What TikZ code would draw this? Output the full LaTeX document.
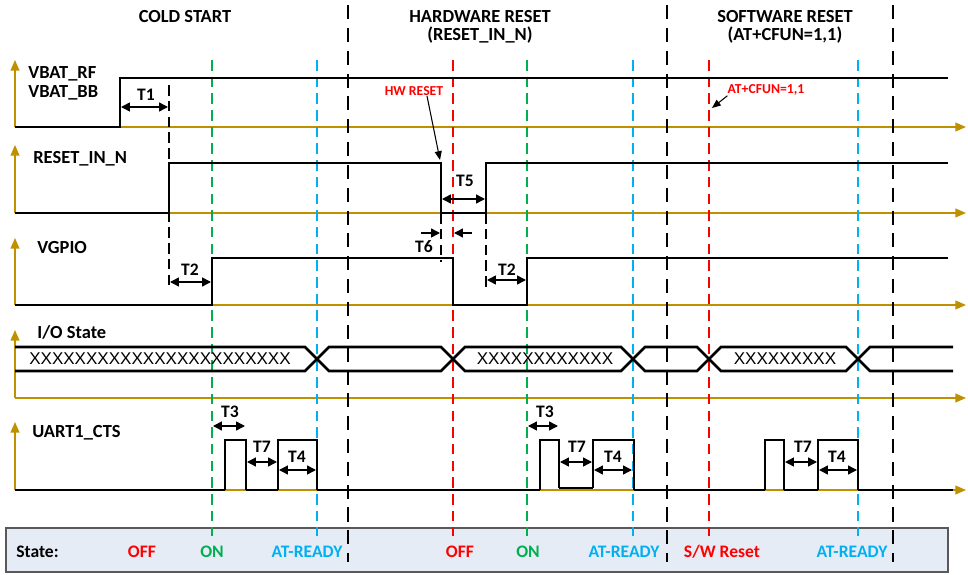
\documentclass[tikz,border=0pt]{standalone}
\usepackage{fontspec}
\setmainfont{Carlito}
\newfontfamily\busfont{Liberation Sans}
\usepackage{xcolor}
\definecolor{axgold}{RGB}{191,144,0}
\definecolor{onGreen}{RGB}{0,176,80}
\definecolor{rdyBlue}{RGB}{0,176,240}
\definecolor{offRed}{RGB}{255,0,0}
\definecolor{stateFill}{RGB}{230,236,246}
\usetikzlibrary{arrows.meta, positioning}

\begin{document}
\begin{tikzpicture}[x=0.02cm, y=-0.02cm,
  sig/.style={line width=1.5pt, line join=miter},
  baseln/.style={axgold, line width=0.8pt, -{Triangle[length=6pt,width=5pt]}},
  divider/.style={line width=1.7pt, dash pattern=on 8pt off 5pt},
  evt/.style={line width=1.1pt, dash pattern=on 6pt off 3.5pt},
  guide/.style={line width=0.9pt, dash pattern=on 6pt off 3pt},
  tarr/.style={{Triangle[length=5pt,width=5pt]}-{Triangle[length=5pt,width=5pt]}, line width=0.8pt},
  tone/.style={-{Triangle[length=5pt,width=5pt]}, line width=0.8pt},
  ptr/.style={-{Triangle[length=5pt,width=4pt]}, line width=0.6pt},
  lbl/.style={font=\fontsize{10.5}{12}\selectfont\bfseries, anchor=base west, inner sep=0pt},
  ttl/.style={font=\fontsize{10.5}{12}\selectfont\bfseries, anchor=base, inner sep=0pt},
  tlbl/.style={font=\fontsize{10}{12}\selectfont\bfseries, inner sep=0pt},
  note/.style={font=\fontsize{7.8}{9}\selectfont\bfseries, text=offRed, inner sep=0pt},
  st/.style={font=\fontsize{10}{12}\selectfont\bfseries, anchor=base, inner sep=0pt},
  bus/.style={font=\busfont\fontsize{9.7}{12}\selectfont, inner sep=0pt},
]
  \useasboundingbox (0,0) rectangle (968,575);

  % State bar
  \draw[gray!70!black, fill=stateFill, line width=0.7pt] (6,528) rectangle (948,572);

  % Axes
  \draw[baseln] (15,127) -- (15,60);  \draw[baseln] (15,127) -- (966,127);
  \draw[baseln] (15,213) -- (15,145); \draw[baseln] (15,213) -- (966,213);
  \draw[baseln] (15,305) -- (15,238); \draw[baseln] (15,305) -- (966,305);
  \draw[baseln] (15,398) -- (15,330); \draw[baseln] (15,398) -- (966,398);
  \draw[baseln] (15,490) -- (15,422); \draw[baseln] (15,490) -- (966,490);

  % Phase dividers and events
  \draw[divider] (348,5) -- (348,562);
  \draw[divider] (667,5) -- (667,562);
  \draw[divider] (893,5) -- (893,562);
  \draw[evt, onGreen] (212,60) -- (212,536);
  \draw[evt, onGreen] (527,60) -- (527,536);
  \draw[evt, rdyBlue] (317,60) -- (317,536);
  \draw[evt, rdyBlue] (633,60) -- (633,536);
  \draw[evt, rdyBlue] (858,60) -- (858,536);
  \draw[evt, offRed] (453,60) -- (453,536);
  \draw[evt, offRed] (709,60) -- (709,536);
  \draw[guide] (169,85) -- (169,290);
  \draw[guide] (441,213) -- (441,262);
  \draw[guide] (486,213) -- (486,288);

  % Signals
  \draw[sig] (15,127) -- (120,127) -- (120,78) -- (948,78);
  \draw[sig] (15,213) -- (169,213) -- (169,163) -- (441,163) -- (441,213) -- (486,213) -- (486,163) -- (948,163);
  \draw[sig] (15,305) -- (212,305) -- (212,258) -- (453,258) -- (453,305) -- (527,305) -- (527,258) -- (948,258);
  \draw[sig] (15,347) -- (305,347) -- (329,371) -- (441,371) -- (465,347) -- (621,347) -- (645,371)
    -- (697,371) -- (721,347) -- (846,347) -- (870,371) -- (953,371);
  \draw[sig] (15,371) -- (305,371) -- (329,347) -- (441,347) -- (465,371) -- (621,371) -- (645,347)
    -- (697,347) -- (721,371) -- (846,371) -- (870,347) -- (953,347);
  \draw[sig] (15,490) -- (225,490) (246,490) -- (278,490) (317,490) -- (540,490) (559,488) -- (593,488)
    (634,490) -- (765,490) (784,490) -- (818,490) (858,490) -- (953,490);
  \draw[sig] (225,490) -- (225,440) -- (246,440) -- (246,490) (278,490) -- (278,440) -- (317,440) -- (317,490)
    (540,490) -- (540,440) -- (559,440) -- (559,488) (593,488) -- (593,440) -- (634,440) -- (634,490)
    (765,490) -- (765,440) -- (784,440) -- (784,490) (818,490) -- (818,440) -- (858,440) -- (858,490);

  \node[bus] (xs1) at (160,359) {XXXXXXXXXXXXXXXXXXXXXXX};
  \node[bus] (xs2) at (545,359) {XXXXXXXXXXXX};
  \node[bus] (xs3) at (785,359) {XXXXXXXXX};

  % Titles and signal names
  \node[ttl] (cold) at (185,22) {COLD START};
  \node[ttl] (hwrst) at (480,22) {HARDWARE RESET};
  \node[ttl] (hwsub) at (480,40) {(RESET\_IN\_N)};
  \node[ttl] (swrst) at (785,22) {SOFTWARE RESET};
  \node[ttl] (swsub) at (785,40) {(AT+CFUN=1,1)};
  \node[lbl] (vbatrf) at (28,78) {VBAT\_RF};
  \node[lbl] (vbatbb) at (28,97) {VBAT\_BB};
  \node[lbl] (rstn) at (33,163) {RESET\_IN\_N};
  \node[lbl] (vgpio) at (37,253) {VGPIO};
  \node[lbl] (iost) at (37,338) {I/O State};
  \node[lbl] (cts) at (32,437) {UART1\_CTS};

  % Timings
  \draw[tarr] (121,107) -- (168,107); \node[tlbl] (t1) at (146,95) {T1};
  \draw[tarr] (170,282) -- (211,282); \node[tlbl] (t2a) at (190,270) {T2};
  \draw[tarr] (487,280) -- (526,280); \node[tlbl] (t2b) at (507,270) {T2};
  \draw[tarr] (442,199) -- (485,199); \node[tlbl] (t5) at (465,181) {T5};
  \draw[tone] (421,233) -- (440,233);
  \draw[tone] (472,233) -- (454,233); \node[tlbl] (t6) at (424,247) {T6};
  \draw[tarr] (213,426) -- (245,426); \node[tlbl] (t3a) at (230,412) {T3};
  \draw[tarr] (247,462) -- (277,462); \node[tlbl] (t7a) at (262,447) {T7};
  \draw[tarr] (279,470) -- (316,470); \node[tlbl] (t4a) at (297,457) {T4};
  \draw[tarr] (528,426) -- (558,426); \node[tlbl] (t3b) at (545,412) {T3};
  \draw[tarr] (560,462) -- (592,462); \node[tlbl] (t7b) at (577,447) {T7};
  \draw[tarr] (594,470) -- (632,470); \node[tlbl] (t4b) at (613,457) {T4};
  \draw[tarr] (785,462) -- (817,462); \node[tlbl] (t7c) at (803,447) {T7};
  \draw[tarr] (819,470) -- (857,470); \node[tlbl] (t4c) at (837,457) {T4};

  % Reset triggers
  \node[note] (hwlbl) at (414,91) {HW RESET};
  \coordinate (hwtail) at (427,96);
  \coordinate (hwedge) at (440,160);
  \draw[ptr] (hwtail) -- (hwedge);
  \node[note] (swlbl) at (766,90) {AT+CFUN=1,1};
  \coordinate (swedge) at (712,108);
  \draw[ptr] (swlbl.south west) -- (swedge);

  % State row
  \node[st, anchor=base west] (stlbl) at (16,557) {State:};
  \node[st, text=offRed] (off1) at (142,557) {OFF};
  \node[st, text=onGreen] (on1) at (212,557) {ON};
  \node[st, text=rdyBlue] (rdy1) at (307,557) {AT-READY};
  \node[st, text=offRed] (off2) at (460,557) {OFF};
  \node[st, text=onGreen] (on2) at (528,557) {ON};
  \node[st, text=rdyBlue] (rdy2) at (624,557) {AT-READY};
  \node[st, text=offRed] (swst) at (722,557) {S/W Reset};
  \node[st, text=rdyBlue] (rdy3) at (852,557) {AT-READY};
\end{tikzpicture}
\end{document}
